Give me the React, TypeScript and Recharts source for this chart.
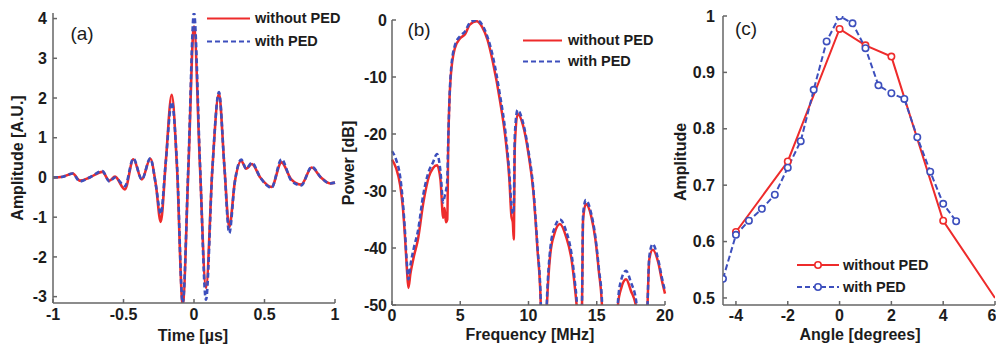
import React from "react";
import { LineChart, Line, XAxis, YAxis, Legend } from "recharts";

// (a) time signal
const TIME_A = [-1, -0.93, -0.86, -0.81, -0.74, -0.65, -0.6, -0.56, -0.49, -0.43, -0.37, -0.31, -0.27, -0.236, -0.2, -0.158, -0.12, -0.08, -0.04, 0, 0.042, 0.085, 0.13, 0.177, 0.215, 0.25, 0.29, 0.335, 0.37, 0.41, 0.47, 0.55, 0.62, 0.69, 0.76, 0.835, 0.9, 0.965, 1];
const RED_A = [0, 0.02, 0.1, -0.08, 0, 0.14, -0.08, 0.02, -0.3, 0.46, -0.05, 0.47, -0.2, -1.12, 0.4, 2.08, 0.2, -3.2, 0.2, 3.8, 0.3, -2.78, 0.2, 2.12, 0.3, -1.25, -0.1, 0.42, 0.22, 0.34, 0, -0.24, 0.38, -0.05, -0.18, 0.25, 0, -0.15, -0.13];
const BLUE_A = [0, 0.02, 0.1, -0.1, 0, 0.16, -0.1, 0, -0.22, 0.48, -0.05, 0.48, -0.2, -0.92, 0.4, 1.9, 0.3, -3.16, 0.3, 4.14, 0.4, -3.08, 0.2, 2.15, 0.3, -1.4, -0.1, 0.45, 0.22, 0.37, 0, -0.26, 0.46, -0.08, -0.2, 0.27, 0, -0.15, -0.13];
const TICKS_AX = [-1, -0.5, 0, 0.5, 1];
const TICKS_AY = [-3, -2, -1, 0, 1, 2, 3, 4];

// (b) spectrum
const FREQ_B = [0, 0.3, 0.6, 0.8, 0.95, 1.1, 1.2, 1.35, 1.6, 1.9, 2.3, 2.7, 3.0, 3.3, 3.55, 3.75, 3.85, 3.95, 4.05, 4.12, 4.3, 4.6, 5.0, 5.35, 5.7, 6.2, 6.6, 7.0, 7.4, 7.9, 8.35, 8.6, 8.75, 8.85, 8.92, 9.0, 9.2, 9.6, 10.0, 10.35, 10.65, 10.9, 11.0, 11.2, 11.35, 11.6, 11.9, 12.3, 12.75, 13.15, 13.4, 13.55, 13.7, 13.8, 13.92, 14.0, 14.2, 14.6, 14.9, 15.15, 15.4, 15.5, 16.4, 16.55, 16.8, 17.15, 17.5, 17.9, 18.0, 18.6, 18.72, 18.85, 19.1, 19.5, 19.8, 20];
const RED_B = [-24.5, -26, -29, -33, -38, -44, -47, -44.5, -41.5, -38.5, -32, -27.5, -26, -25.5, -28, -34.7, -33, -35.5, -35, -22, -10, -5, -3.2, -2.5, -0.8, -0.2, -1.2, -3.5, -7.5, -14, -21.5, -28, -34.5, -35.5, -38.5, -22, -16.5, -18.5, -23.5, -30, -40, -50, -60, -60, -50, -41, -37.5, -35.8, -38, -42, -47, -51, -60, -60, -50, -35, -32.3, -34.5, -38.5, -44, -51, -60, -60, -50, -47, -45.5, -47.5, -50.5, -60, -60, -50, -42, -40.3, -42.5, -46, -48];
const BLUE_B = [-23, -24.5, -27.5, -32, -37, -43, -45.5, -43, -40, -37, -30.5, -26.5, -25, -23.5, -26.5, -32, -31, -30, -28, -21, -9.5, -4.5, -2.8, -2, -0.5, 0, -0.8, -3, -6.5, -13, -20.5, -27, -32.5, -34, -33, -20, -15.8, -18, -23, -29.5, -39.5, -49.5, -60, -60, -49, -40, -36.5, -35, -37, -41, -46, -50, -60, -60, -49.5, -34, -31.6, -34, -38, -43.5, -50, -60, -60, -49.5, -45.5, -44, -46, -49.5, -60, -60, -50, -41.5, -39.3, -42, -45.5, -47.5];
const TICKS_BX = [0, 5, 10, 15, 20];
const TICKS_BY = [-50, -40, -30, -20, -10, 0];

// (c) angular response
const ANGLE_RED = [-4, -2, 0, 1, 2, 4, 6];
const AMP_RED = [0.617, 0.742, 0.977, 0.948, 0.928, 0.637, 0.5];
const ANGLE_BLUE = [-4.5, -4, -3.5, -3, -2.5, -2, -1.5, -1, -0.5, 0, 0.5, 1, 1.5, 2, 2.5, 3, 3.5, 4, 4.5];
const AMP_BLUE = [0.534, 0.612, 0.637, 0.658, 0.683, 0.731, 0.778, 0.869, 0.955, 1.0, 0.987, 0.943, 0.877, 0.863, 0.853, 0.785, 0.724, 0.667, 0.636];
const TICKS_CX = [-4, -2, 0, 2, 4, 6];
const TICKS_CY = [0.5, 0.6, 0.7, 0.8, 0.9, 1];

const RED = "#ee2b2b";
const BLUE = "#3d4fbd";
const AXIS = "#666";
const INK = "#1c1c1c";
const FONT = "'Liberation Sans', Arial, sans-serif";

const dataA = TIME_A.map((x, i) => ({ x, red: RED_A[i], blue: BLUE_A[i] }));
const dataB = FREQ_B.map((x, i) => ({ x, red: RED_B[i], blue: BLUE_B[i] }));
const redC = ANGLE_RED.map((x, i) => ({ x, y: AMP_RED[i] }));
const blueC = ANGLE_BLUE.map((x, i) => ({ x, y: AMP_BLUE[i] }));

const tickStyle = { fontSize: 16, fontWeight: 700, fill: INK, fontFamily: FONT };

function legendContent(lineX: number, lineW: number, textX: number, rowH: number, markers: boolean) {
  const rows = [
    { label: "without PED", color: RED, dash: undefined as string | undefined },
    { label: "with PED", color: BLUE, dash: "5 3" },
  ];
  return () => (
    <div style={{ position: "relative", width: textX + 100, height: rowH * 2 }}>
      {rows.map((r, i) => (
        <div key={r.label} style={{ position: "absolute", left: 0, top: i * rowH, height: rowH, width: textX + 100 }}>
          <svg width={textX} height={rowH} style={{ position: "absolute", left: 0, top: 0 }}>
            <line x1={lineX} x2={lineX + lineW} y1={rowH / 2} y2={rowH / 2} stroke={r.color} strokeWidth={2.2} strokeDasharray={r.dash} />
            {markers && <circle cx={lineX + lineW / 2} cy={rowH / 2} r={3.2} fill="#fff" stroke={r.color} strokeWidth={1.6} />}
          </svg>
          <span style={{ position: "absolute", left: textX, top: 0, lineHeight: `${rowH}px`, fontSize: 14.5, fontWeight: 700, color: INK, fontFamily: FONT, whiteSpace: "nowrap" }}>
            {r.label}
          </span>
        </div>
      ))}
    </div>
  );
}

function Title({ x, y, text, rotate, size = 16, bold = true }: { x: number; y: number; text: string; rotate?: boolean; size?: number; bold?: boolean }) {
  return (
    <div style={{ position: "absolute", left: x, top: y, transform: `translate(-50%, -50%)${rotate ? " rotate(-90deg)" : ""}`, fontSize: size, fontWeight: bold ? 700 : 400, color: INK, fontFamily: FONT, whiteSpace: "nowrap", lineHeight: 1 }}>
      {text}
    </div>
  );
}

const redDotC = (p: any) => {
  if (p.payload.x > 5) return <g key={p.index} />;
  return <circle key={p.index} cx={p.cx} cy={p.cy} r={3.2} fill="#fff" stroke={RED} strokeWidth={1.6} />;
};

export default function App() {
  return (
    <div style={{ position: "absolute", left: 0, top: 0, width: 996, height: 347, background: "#fff", overflow: "hidden" }}>
      <div style={{ position: "absolute", left: 0, top: 0 }}>
        <LineChart width={345} height={347} data={dataA} margin={{ top: 13, right: 10, bottom: 0, left: 0 }}>
          <XAxis dataKey="x" type="number" domain={[-1, 1]} ticks={TICKS_AX} height={44} stroke={AXIS} strokeWidth={1.5} tickSize={-4} tickMargin={10} tick={tickStyle} />
          <YAxis type="number" domain={[-3.16, 4.14]} ticks={TICKS_AY} allowDataOverflow width={53} stroke={AXIS} strokeWidth={1.5} tickSize={-4} tickMargin={10} tick={tickStyle} />
          <Line dataKey="red" type="monotone" stroke={RED} strokeWidth={2.6} dot={false} isAnimationActive={false} />
          <Line dataKey="blue" type="monotone" stroke={BLUE} strokeWidth={2.6} strokeDasharray="5 3" dot={false} isAnimationActive={false} />
          <Legend layout="vertical" align="center" verticalAlign="middle" content={legendContent(207, 43, 255, 23, false)} wrapperStyle={{ left: 0, top: 7, width: 345 }} />
        </LineChart>
      </div>

      <div style={{ position: "absolute", left: 345, top: 0 }}>
        <LineChart width={330} height={347} data={dataB} margin={{ top: 20, right: 10, bottom: 0, left: 0 }}>
          <XAxis dataKey="x" type="number" domain={[0, 20]} ticks={TICKS_BX} height={42} stroke={AXIS} strokeWidth={1.5} tickSize={-4} tickMargin={9} tick={tickStyle} />
          <YAxis type="number" domain={[-50, 0]} ticks={TICKS_BY} allowDataOverflow width={47} stroke={AXIS} strokeWidth={1.5} tickSize={-4} tickMargin={9} tick={tickStyle} />
          <Line dataKey="red" type="monotone" stroke={RED} strokeWidth={2.5} dot={false} isAnimationActive={false} />
          <Line dataKey="blue" type="monotone" stroke={BLUE} strokeWidth={2.5} strokeDasharray="5 3" dot={false} isAnimationActive={false} />
          <Legend layout="vertical" align="center" verticalAlign="middle" content={legendContent(178, 39, 223, 21, false)} wrapperStyle={{ left: 0, top: 30, width: 330 }} />
        </LineChart>
      </div>

      <div style={{ position: "absolute", left: 675, top: 0 }}>
        <LineChart width={321} height={347} margin={{ top: 16, right: 1, bottom: 0, left: 0 }}>
          <XAxis dataKey="x" type="number" domain={[-4.5, 6]} ticks={TICKS_CX} height={42} stroke={AXIS} strokeWidth={1.5} tickSize={-4} tickMargin={9} tick={tickStyle} allowDataOverflow />
          <YAxis type="number" domain={[0.4875, 1.0]} ticks={TICKS_CY} allowDataOverflow width={48} stroke={AXIS} strokeWidth={1.5} tickSize={-4} tickMargin={12} tick={tickStyle} tickFormatter={(v: number) => String(v)} />
          <Line data={redC} dataKey="y" type="linear" stroke={RED} strokeWidth={2} dot={redDotC} isAnimationActive={false} />
          <Line data={blueC} dataKey="y" type="linear" stroke={BLUE} strokeWidth={2} strokeDasharray="6 3" dot={{ r: 3.2, fill: "#fff", stroke: BLUE, strokeWidth: 1.6, strokeDasharray: "" }} isAnimationActive={false} />
          <Legend layout="vertical" align="center" verticalAlign="middle" content={legendContent(122, 42, 168, 22, true)} wrapperStyle={{ left: 0, top: 254, width: 321 }} />
        </LineChart>
      </div>

      <Title x={82} y={33} text="(a)" size={19} bold={false} />
      <Title x={419} y={29} text="(b)" size={19} bold={false} />
      <Title x={746} y={28} text="(c)" size={19} bold={false} />

      <Title x={193} y={336} text="Time [µs]" />
      <Title x={530} y={335} text="Frequency [MHz]" />
      <Title x={860} y={335} text="Angle [degrees]" />

      <Title x={18} y={158} text="Amplitude [A.U.]" rotate />
      <Title x={349} y={163} text="Power [dB]" rotate />
      <Title x={681} y={162} text="Amplitude" rotate />
    </div>
  );
}
